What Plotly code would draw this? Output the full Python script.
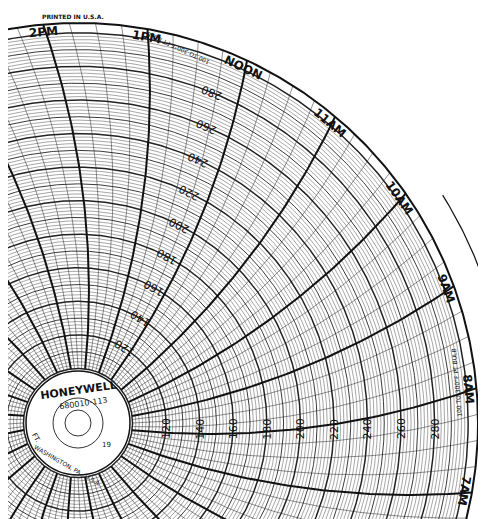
import numpy as np
import plotly.graph_objects as go

# ---- data ----
hour_labels = ["7AM", "8AM", "9AM", "10AM", "11AM", "NOON", "1PM", "2PM", "3PM"]
hour_values = [7, 8, 9, 10, 11, 12, 13, 14, 15]
radial_ticks = [120, 140, 160, 180, 200, 220, 240, 260, 280]
noon_row_ticks = [120, 140, 160, 180, 200, 220, 240, 260, 280]
v_zero = 67.5
R_OUT = 400.0
SCALE = 1.678
ARC_A = 800.0

def rad(v):
    return (v - v_zero) * SCALE

def theta_line(h, r):
    base = 5 + 15 * (h - 8)
    return np.radians(base - np.degrees(np.arcsin(R_OUT / (2 * ARC_A)))
                      + np.degrees(np.arcsin(r / (2 * ARC_A))))

fig = go.Figure()

def add_lines(xs, ys, w, c="#222"):
    fig.add_trace(go.Scatter(x=xs, y=ys, mode="lines", line=dict(color=c, width=w),
                             hoverinfo="skip", showlegend=False))

t = np.linspace(0, 2 * np.pi, 720)
groups = {0.4: [], 0.9: [], 1.5: []}
for v in range(100, 301, 2):
    w = 1.5 if v % 20 == 0 else (0.9 if v % 10 == 0 else 0.4)
    groups[w].append(v)
for w, vs in groups.items():
    xs, ys = [], []
    for v in vs:
        r = rad(v)
        xs += list(r * np.cos(t)) + [None]
        ys += list(r * np.sin(t)) + [None]
    add_lines(xs, ys, w)

rr = np.linspace(rad(100), R_OUT, 60)
fine_x, fine_y, bold_x, bold_y = [], [], [], []
for m in range(0, 24 * 60, 15):
    h = m / 60
    th = theta_line(h, rr)
    x = list(rr * np.cos(th)) + [None]
    y = list(rr * np.sin(th)) + [None]
    if m % 60 == 0:
        bold_x += x; bold_y += y
    else:
        fine_x += x; fine_y += y
add_lines(fine_x, fine_y, 0.5)
add_lines(bold_x, bold_y, 2.0, "#111")

add_lines(list(R_OUT * np.cos(t)), list(R_OUT * np.sin(t)), 2.0, "#111")
ta = np.radians(np.linspace(12, 32, 60))
add_lines(list(430 * np.cos(ta)), list(430 * np.sin(ta)), 1.2, "#111")

fig.add_shape(type="circle", x0=-52, y0=-52, x1=52, y1=52, fillcolor="white",
              line=dict(color="#111", width=1.5))
for r0 in (25, 13):
    fig.add_shape(type="circle", x0=-r0, y0=-r0, x1=r0, y1=r0, line=dict(color="#333", width=1))

ann = []
def txt(x, y, s, size=10, ang=0, bold=False):
    ann.append(dict(x=x, y=y, text=f"<b>{s}</b>" if bold else s, showarrow=False,
                    textangle=ang, font=dict(size=size, color="#111", family="DejaVu Sans")))

txt(0, 33, "HONEYWELL", 11, -8, True)
txt(5, 20, "680010-113", 8, -8)
txt(-42, -15, "FT.", 7, 60)
txt(-10, -42, "WASHINGTON, PA., U.S.A.", 6, 30)
txt(28, -22, "19", 7)
txt(-5, 407, "PRINTED IN U.S.A.", 6, 0, True)
txt(100, 374, "100 TO 300°F PT BULB", 6, 25 + 180)
txt(378, 40, "100 TO 300°F PT BULB", 6, 85 - 180)

for lab, h in zip(hour_labels, hour_values):
    th = 5 + 15 * (h - 8)
    r = R_OUT - 8
    x, y = r * np.cos(np.radians(th)), r * np.sin(np.radians(th))
    if -70 < x < 416 and -104 < y < 415:
        txt(x, y, lab, 12, 90 - th, True)

for v in radial_ticks:
    r = rad(v)
    txt(r, -6, str(v), 11, -90)

for v in noon_row_ticks:
    r = rad(v)
    th = theta_line(12.3, r)
    a = np.degrees(th)
    txt(r * np.cos(th), r * np.sin(th), str(v), 11, 90 - a + 180 - 360)

fig.update_layout(
    width=486, height=519, margin=dict(l=0, r=0, t=0, b=0),
    plot_bgcolor="white", paper_bgcolor="white", annotations=ann,
    xaxis=dict(range=[-70, 416], visible=False, fixedrange=True),
    yaxis=dict(range=[-104, 415], visible=False, fixedrange=True),
)
fig.write_html("out.html")
